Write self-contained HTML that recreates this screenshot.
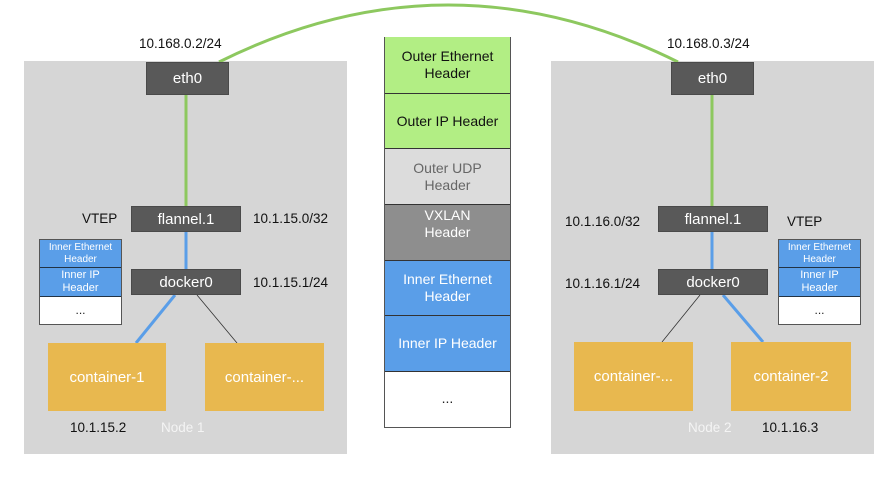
<!DOCTYPE html>
<html><head><meta charset="utf-8"><style>
body{margin:0;width:894px;height:492px;background:#fff;position:relative;overflow:hidden;font-family:"Liberation Sans",Arial,sans-serif}
.a{position:absolute;box-sizing:border-box}
.node{background:#d6d6d6}
.dk{background:#595959;color:#fff;font-size:15px;display:flex;align-items:center;justify-content:center;border:1px solid #4a4a4a}
.ct{background:#e8b84f;color:#fff;font-size:15px;display:flex;align-items:center;justify-content:center}
.t{font-size:13.5px;color:#111;white-space:nowrap}
.row{position:absolute;left:0;width:100%;display:flex;align-items:center;justify-content:center;text-align:center;box-sizing:border-box;line-height:1.2}
.ps .row{font-size:14px;border-bottom:1.5px solid #333}
.is{border:1px solid #555;background:#fff}
.is .row{font-size:10px;color:#fff;background:#5a9ee8;line-height:1.15;border-bottom:1.5px solid #234}
</style></head><body>
<div class="a node" style="left:24px;top:61px;width:323px;height:393px"></div>
<div class="a node" style="left:551px;top:61px;width:323px;height:393px"></div>
<svg class="a" style="left:0;top:0" width="894" height="492">
<path d="M219 62 Q448 -52 678 62" fill="none" stroke="#8dc85f" stroke-width="3"/>
<line x1="186" y1="94" x2="186" y2="206" stroke="#8dc85f" stroke-width="3"/>
<line x1="186" y1="231" x2="186" y2="269" stroke="#5a9ee8" stroke-width="3"/>
<line x1="175" y1="295" x2="136" y2="343" stroke="#5a9ee8" stroke-width="3"/>
<line x1="197" y1="295" x2="237" y2="343" stroke="#333" stroke-width="0.8"/>
<line x1="712" y1="94" x2="712" y2="206" stroke="#8dc85f" stroke-width="3"/>
<line x1="712" y1="231" x2="712" y2="269" stroke="#5a9ee8" stroke-width="3"/>
<line x1="700" y1="295" x2="662" y2="342" stroke="#333" stroke-width="0.8"/>
<line x1="723" y1="295" x2="763" y2="342" stroke="#5a9ee8" stroke-width="3"/>
</svg>
<div class="a dk" style="left:146px;top:62px;width:83px;height:33px">eth0</div>
<div class="a dk" style="left:131px;top:206px;width:110px;height:26px">flannel.1</div>
<div class="a dk" style="left:131px;top:269px;width:110px;height:26px">docker0</div>
<div class="a ct" style="left:48px;top:343px;width:118px;height:68px">container-1</div>
<div class="a ct" style="left:205px;top:343px;width:119px;height:68px">container-...</div>
<div class="a t" style="left:139px;top:36px">10.168.0.2/24</div>
<div class="a t" style="left:82px;top:211px">VTEP</div>
<div class="a t" style="left:253px;top:211px">10.1.15.0/32</div>
<div class="a t" style="left:253px;top:275px">10.1.15.1/24</div>
<div class="a t" style="left:70px;top:420px">10.1.15.2</div>
<div class="a t" style="left:161px;top:420px;color:#f4f4f4">Node 1</div>
<div class="a is" style="left:39px;top:239px;width:83px;height:86px">
<div class="row" style="top:0;height:28px">Inner Ethernet<br>Header</div>
<div class="row" style="top:28px;height:29px;font-size:11px">Inner IP<br>Header</div>
<div class="row" style="top:57px;height:27px;background:#fff;color:#222;border:none;font-size:12px">...</div>
</div>

<div class="a dk" style="left:671px;top:62px;width:83px;height:33px">eth0</div>
<div class="a dk" style="left:658px;top:206px;width:110px;height:26px">flannel.1</div>
<div class="a dk" style="left:658px;top:269px;width:110px;height:26px">docker0</div>
<div class="a ct" style="left:574px;top:342px;width:119px;height:69px">container-...</div>
<div class="a ct" style="left:731px;top:342px;width:120px;height:69px">container-2</div>
<div class="a t" style="left:667px;top:36px">10.168.0.3/24</div>
<div class="a t" style="left:565px;top:214px">10.1.16.0/32</div>
<div class="a t" style="left:787px;top:214px">VTEP</div>
<div class="a t" style="left:565px;top:276px">10.1.16.1/24</div>
<div class="a t" style="left:688px;top:420px;color:#f4f4f4">Node 2</div>
<div class="a t" style="left:762px;top:420px">10.1.16.3</div>
<div class="a is" style="left:778px;top:239px;width:83px;height:86px">
<div class="row" style="top:0;height:28px">Inner Ethernet<br>Header</div>
<div class="row" style="top:28px;height:29px;font-size:11px">Inner IP<br>Header</div>
<div class="row" style="top:57px;height:27px;background:#fff;color:#222;border:none;font-size:12px">...</div>
</div>

<div class="a ps" style="left:384px;top:37px;width:127px;height:391px;border:1px solid #555;border-top:none">
<div class="row" style="top:0;height:57px;background:#b2ee84;color:#111">Outer Ethernet<br>Header</div>
<div class="row" style="top:57px;height:55px;background:#b2ee84;color:#111">Outer IP Header</div>
<div class="row" style="top:112px;height:56px;background:#dcdcdc;color:#666">Outer UDP<br>Header</div>
<div class="row" style="top:168px;height:56px;background:#8e8e8e;color:#fff;align-items:flex-start;padding-top:2px">VXLAN<br>Header</div>
<div class="row" style="top:224px;height:55px;background:#5a9ee8;color:#fff">Inner Ethernet<br>Header</div>
<div class="row" style="top:279px;height:56px;background:#5a9ee8;color:#fff">Inner IP Header</div>
<div class="row" style="top:335px;height:53px;background:#fff;color:#222;border:none">...</div>
</div>
</body></html>
